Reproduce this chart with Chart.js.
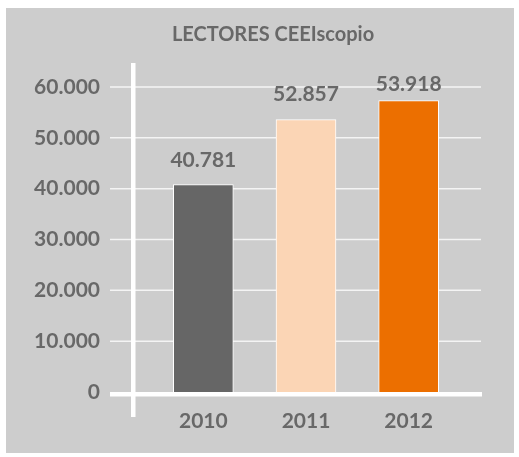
<!DOCTYPE html>
<html>
<head>
<meta charset="utf-8">
<script src="https://cdn.jsdelivr.net/npm/chart.js@4"></script>
<style>
  html, body { margin: 0; padding: 0; background: #fff; }
  #wrap { width: 519px; height: 457px; }
</style>
</head>
<body>
<div id="wrap"><canvas id="chart" width="519" height="457"></canvas></div>
<script>
const years = ['2010', '2011', '2012'];
const readers = [40781, 53570, 57310];
const readerLabels = ['40.781', '52.857', '53.918'];
const barColors = ['#666666', '#fbd5b5', '#ec6f00'];
const chartTitle = 'LECTORES CEEIscopio';

const TEXT = '#686868';
const FONT = 'Lato';

function fmt(v) {
  return String(v).replace(/\B(?=(\d{3})+(?!\d))/g, '.');
}

// gray panel, title, white grid lines and the crossing axis lines
const panel = {
  id: 'panel',
  beforeDraw(chart) {
    const c = chart.ctx;
    c.save();
    c.fillStyle = '#cdcdcd';
    c.fillRect(6, 8, 508, 445);
    c.font = `bold 20px ${FONT}`;
    c.fillStyle = TEXT;
    c.textAlign = 'center';
    c.textBaseline = 'middle';
    c.fillText(chartTitle, 273, 35);
    c.restore();
  },
  beforeDatasetsDraw(chart) {
    const c = chart.ctx, a = chart.chartArea, y = chart.scales.y;
    c.save();
    c.strokeStyle = '#f4f4f4';
    c.lineWidth = 1.5;
    y.ticks.forEach(t => {
      if (t.value === 0) return;
      const py = y.getPixelForValue(t.value);
      c.beginPath(); c.moveTo(a.left - 42, py); c.lineTo(a.right + 21, py); c.stroke();
    });
    c.restore();
  },
  afterDatasetsDraw(chart) {
    const c = chart.ctx, a = chart.chartArea, y = chart.scales.y;
    const y0 = y.getPixelForValue(0);
    c.save();
    c.fillStyle = '#ffffff';
    c.fillRect(a.left - 42, y0, a.right + 22 - (a.left - 42), 4.5);
    c.fillRect(a.left - 21, a.top - 24, 4.5, a.bottom + 25 - (a.top - 24));
    c.restore();
  }
};

const valueLabelPlugin = {
  id: 'valueLabels',
  afterDraw(chart, args, opts) {
    const c = chart.ctx;
    const meta = chart.getDatasetMeta(0);
    c.save();
    c.font = `bold 21px ${FONT}`;
    c.fillStyle = TEXT;
    c.textAlign = 'center';
    c.textBaseline = 'middle';
    meta.data.forEach((bar, i) => {
      c.fillText(readerLabels[i], bar.x, bar.y - opts.offsets[i]);
    });
    c.restore();
  }
};

new Chart(document.getElementById('chart'), {
  type: 'bar',
  data: {
    labels: years,
    datasets: [{
      data: readers,
      backgroundColor: barColors,
      borderColor: '#ffffff',
      borderWidth: 1,
      barThickness: 60
    }]
  },
  plugins: [panel, valueLabelPlugin],
  options: {
    responsive: false,
    animation: false,
    layout: { padding: { left: 6, right: 59, top: 87, bottom: 0 } },
    plugins: {
      legend: { display: false },
      tooltip: { enabled: false },
      title: { display: false },
      valueLabels: { offsets: [24, 25, 16.5] }
    },
    scales: {
      x: {
        grid: { display: false, drawTicks: false },
        border: { display: false },
        ticks: { color: TEXT, font: { family: FONT, size: 21, weight: 'bold' }, padding: 17 },
        afterFit(s) { s.height = 65; }
      },
      y: {
        min: 0,
        max: 60000,
        grid: { display: false, drawTicks: false },
        border: { display: false },
        ticks: {
          stepSize: 10000,
          color: TEXT,
          padding: 52,
          font: { family: FONT, size: 21, weight: 'bold' },
          callback: v => fmt(v)
        },
        afterFit(s) { s.width = 146; }
      }
    }
  }
});
</script>
</body>
</html>
